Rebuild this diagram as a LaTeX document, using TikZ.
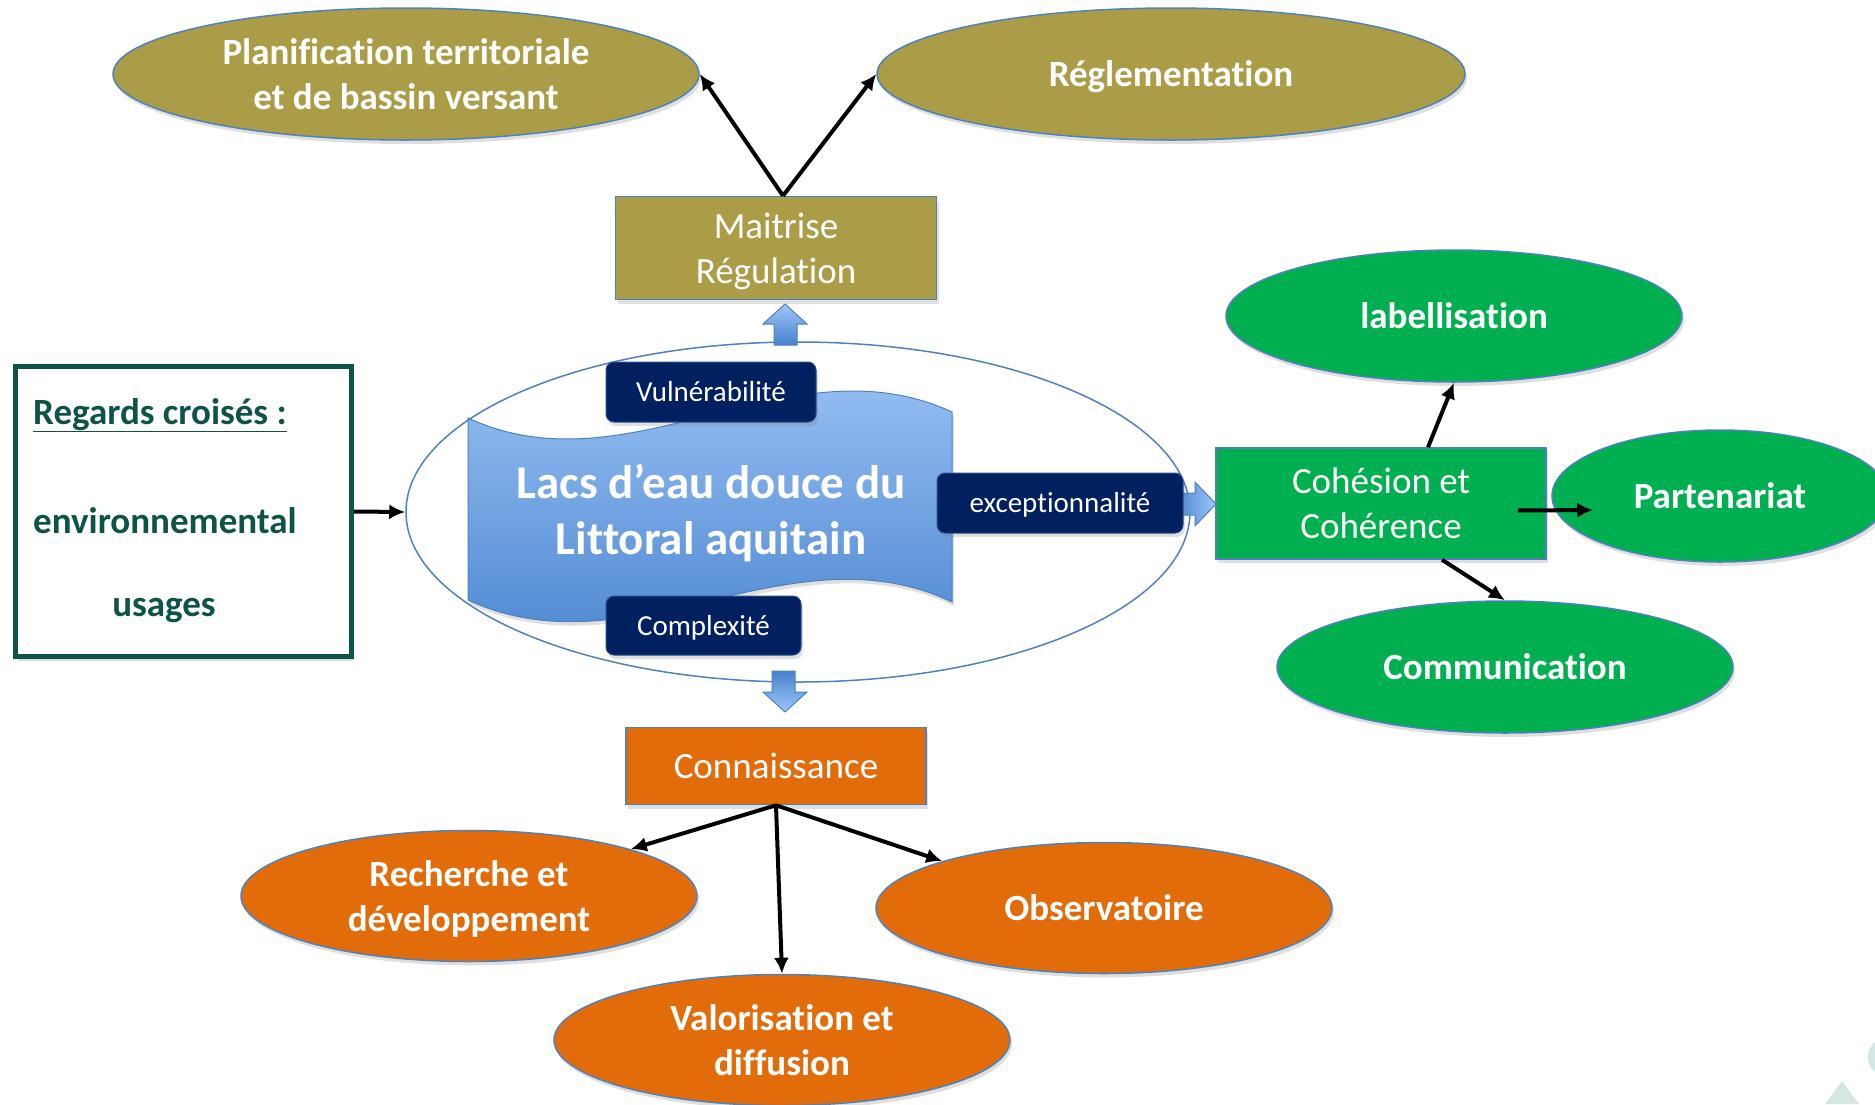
\documentclass[tikz,border=0pt]{standalone}
\usepackage{fontspec}
\setmainfont{Carlito}[Ligatures=NoCommon]
\usetikzlibrary{positioning,shapes.geometric,arrows.meta,shadows}

\definecolor{khaki}{RGB}{171,157,72}
\definecolor{leaf}{RGB}{0,176,80}
\definecolor{rust}{RGB}{227,108,10}
\definecolor{navy}{RGB}{0,32,96}
\definecolor{pine}{RGB}{14,84,70}
\definecolor{rim}{RGB}{79,129,189}
\definecolor{skytop}{RGB}{160,198,248}
\definecolor{skybot}{RGB}{70,130,205}
\definecolor{mist}{RGB}{213,230,228}

% line struts, as in the slide's text boxes
\newcommand{\lineTop}{\rule{0pt}{0.95em}}
\newcommand{\lineBot}{\rule[-0.27em]{0pt}{0pt}}

\tikzset{
  soft/.style={drop shadow={shadow xshift=2pt,shadow yshift=-4pt,opacity=.25}},
  struts/.style={execute at begin node={\lineTop},
    execute at end node={\lineBot}},
  oval/.style={ellipse, draw=rim, line width=1.5pt, inner sep=0pt, align=center,
    text=white, font=\bfseries\fontsize{37}{45}\selectfont,
    minimum width=456pt, minimum height=131pt, struts, soft},
  colbox/.style={rectangle, draw=rim, line width=1.5pt, inner sep=0pt, align=center,
    text=white, font=\fontsize{37}{45}\selectfont, struts, soft},
  navytag/.style={rectangle, rounded corners=8pt, fill=navy, draw=rim!50!navy,
    line width=1pt, inner sep=0pt, text=white, font=\fontsize{29}{35}\selectfont,
    minimum height=60pt, struts, soft},
  pinetext/.style={inner sep=0pt, text=pine, font=\bfseries\fontsize{37}{45}\selectfont},
  link/.style={line width=4pt, -{Latex[length=16pt,width=15pt]}},
  fatarrow/.style={draw=rim, line width=1pt},
}

\begin{document}
\begin{tikzpicture}[x=1pt,y=-1pt]
\useasboundingbox (0,0) rectangle (1875,1104);

% logo corner
\fill[mist] (1842,1081) -- (1825,1104) -- (1859,1104) -- cycle;
\fill[mist] (1888,1057) circle[radius=20pt];

% regards croises
\node[draw=pine, line width=5pt, fill=white, minimum width=336pt, minimum height=290pt, soft] (reg) at (183.5,511.5) {};
\node[pinetext, anchor=base west] (regt) at (33,424) {\underline{Regards croisés :}};
\node[pinetext, anchor=base west] (regenv) at (33,533) {environnemental};
\node[pinetext, anchor=base] (regus) at (164,616) {usages};

% top
\node[oval, fill=khaki, minimum width=586pt, minimum height=132pt] (plan) at (406,74) {\lineTop Planification territoriale\\et de bassin versant};
\node[oval, fill=khaki, minimum width=588pt, minimum height=132pt] (regl) at (1171,74) {Réglementation};

% centre
\path[top color=skytop, bottom color=skybot, draw=rim, line width=1pt, soft]
  (468,418) .. controls (630,493) and (790,337) .. (952,412) -- (952,602)
  .. controls (790,525) and (630,675) .. (468,600) -- cycle;
\node[ellipse, draw=rim, line width=1.5pt, minimum width=784pt, minimum height=340pt, inner sep=0pt] (lac) at (798,512) {};
\node[text=white, align=center, font=\bfseries\fontsize{47}{56}\selectfont, struts] (lacs) at (711,511) {\lineTop Lacs d’eau douce du\\Littoral aquitain};

\path[fatarrow, left color=skybot, right color=skytop]
  (1175,493) -- (1195,493) -- (1195,482) -- (1216,504) -- (1195,526) -- (1195,515) -- (1175,515) -- cycle;
\path[fatarrow, top color=skytop, bottom color=skybot]
  (774,345) -- (774,324) -- (763,324) -- (785,304) -- (807,324) -- (797,324) -- (797,345) -- cycle;
\path[fatarrow, top color=skybot, bottom color=skytop]
  (772,671) -- (795,671) -- (795,692) -- (807,692) -- (785,712) -- (763,692) -- (772,692) -- cycle;

\node[navytag, minimum width=210pt] (vuln) at (711,392) {Vulnérabilité};
\node[navytag, minimum width=195pt, minimum height=59pt] (compl) at (703.5,625.5) {Complexité};
\node[navytag, minimum width=246pt] (excep) at (1060,503) {exceptionnalité};

\node[colbox, fill=khaki, minimum width=321pt, minimum height=103pt, above=41pt of lac, xshift=-22pt] (mait) {\lineTop Maitrise\\Régulation};

% right
\node[colbox, fill=leaf, minimum width=330pt, minimum height=111pt] (coh) at (1381,503.5) {\lineTop Cohésion et\\Cohérence};
\node[oval, fill=leaf, minimum height=132pt] (lab) at (1454,316) {labellisation};
\node[oval, fill=leaf, minimum width=336pt, minimum height=132pt] (part) at (1720,496) {Partenariat};
\node[oval, fill=leaf, minimum height=132pt] (comm) at (1505,667) {Communication};

% bottom
\node[colbox, fill=rust, minimum width=300pt, minimum height=77pt, below=44pt of lac, xshift=-22pt] (conn) {Connaissance};
\node[oval, fill=rust] (rech) at (469,896) {\lineTop Recherche et\\développement};
\node[oval, fill=rust] (obs) at (1104,908) {Observatoire};
\node[oval, fill=rust] (valo) at (782,1040) {\lineTop Valorisation et\\diffusion};

\draw[link] (reg.east) -- (lac.west);
\draw[link] ([xshift=7pt]mait.north) -- (plan.east);
\draw[link] ([xshift=7pt]mait.north) -- (regl.west);
\draw[link] (conn.south) -- (rech.north east);
\draw[link] (conn.south) -- (obs.north west);
\draw[link] (conn.south) -- (valo.north);
\draw[link] ([xshift=47pt]coh.north) -- (lab.south);
\draw[link] ([xshift=-29pt,yshift=-7pt]coh.east) -- ([xshift=42pt,yshift=-14pt]part.west);
\draw[link] ([xshift=61pt]coh.south) -- (comm.north);
\end{tikzpicture}
\end{document}
